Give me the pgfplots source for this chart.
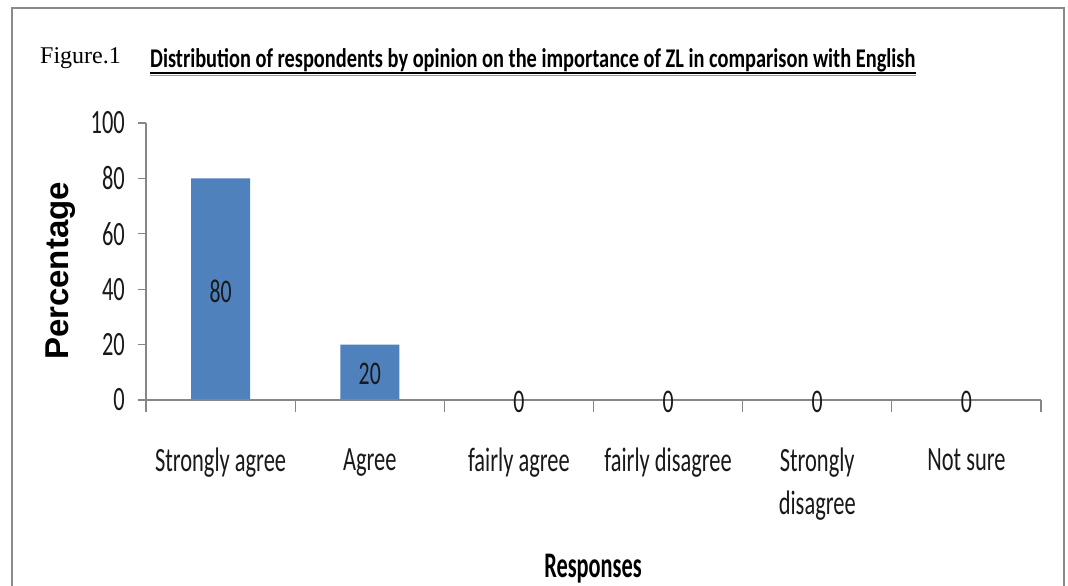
\documentclass[border=0pt]{standalone}
\usepackage{fontspec}
\usepackage{pgfplots}
\pgfplotsset{compat=1.18}
\setmainfont{Liberation Serif}
\newfontfamily\calibri[FakeStretch=0.66]{Carlito}
\newfontfamily\calibrinarrow[FakeStretch=0.62]{Carlito}
\newfontfamily\calibrititle[FakeStretch=0.755]{Carlito}
\newfontfamily\arialfont{Liberation Sans}
\definecolor{barblue}{HTML}{4F81BD}
\definecolor{axisgray}{HTML}{868686}
\definecolor{framegray}{HTML}{8A8A8A}

\begin{document}
\begin{tikzpicture}
\fill[white] (0,0) rectangle (1068bp,586bp);
\useasboundingbox (0,0) rectangle (1068bp,586bp);
% outer frame
\draw[framegray, line width=2.5bp] (12bp,-2bp) -- (12bp,578bp) -- (1064bp,578bp) -- (1064bp,-2bp);
% heading
\node[anchor=base west, inner sep=0, font=\fontsize{24bp}{28bp}\selectfont] at (40bp,522bp) {Figure.1};
\node[anchor=base west, inner sep=0, font=\calibrititle\bfseries\fontsize{27bp}{30bp}\selectfont] (t) at (150bp,518bp)
  {Distribution of respondents by opinion on the importance of ZL in comparison with English};
\draw[black!40, line width=1.5bp] ([yshift=-7.5bp]t.base west) -- ([yshift=-7.5bp]t.base east);
\draw[black, line width=2bp] ([yshift=-5bp]t.base west) -- ([yshift=-5bp]t.base east);
% axis titles
\node[rotate=90, anchor=base, inner sep=0, font=\arialfont\bfseries\fontsize{33bp}{36bp}\selectfont] at (68bp,315bp) {Percentage};
\node[anchor=base, inner sep=0, font=\calibrinarrow\bfseries\fontsize{36bp}{40bp}\selectfont] at (593bp,9bp) {Responses};

\begin{axis}[
  at={(146bp,186bp)}, anchor=south west,
  scale only axis, width=895bp, height=277bp,
  xmin=-0.5, xmax=5.5, ymin=0, ymax=100,
  axis x line=bottom, axis y line=left,
  axis line style={-, draw=axisgray, line width=1.5bp},
  axis on top, clip=false,
  tick align=outside,
  major tick length=8bp, minor tick length=12bp,
  ytick={0,20,...,100},
  ytick style={draw=axisgray, line width=1.2bp},
  xtick={0,...,5},
  xticklabels={Strongly agree, Agree, fairly agree, fairly disagree, {Strongly\\disagree}, Not sure},
  minor xtick={-0.5,0.5,...,5.5},
  major x tick style={draw=none},
  minor x tick style={draw=axisgray, line width=1.2bp},
  /pgf/number format/assume math mode=true,
  yticklabel style={anchor=east, inner sep=0, xshift=-13bp,
    font=\calibri\fontsize{34bp}{40bp}\selectfont, text=black!90},
  xticklabel style={anchor=north, inner sep=0, yshift=-40bp, align=center,
    font=\calibri\fontsize{34bp}{43bp}\selectfont, text=black!90},
]
\addplot[ybar, bar width=59bp, fill=barblue, draw=none,
  visualization depends on={rawy \as \rawy},
  nodes near coords,
  nodes near coords style={anchor=center, inner sep=0, yshift={-1.385bp*\rawy-2bp},
    font=\calibri\fontsize{33bp}{40bp}\selectfont, text=black!90},
  ] coordinates {(0,80) (1,20) (2,0) (3,0) (4,0) (5,0)};
\end{axis}
\end{tikzpicture}
\end{document}
